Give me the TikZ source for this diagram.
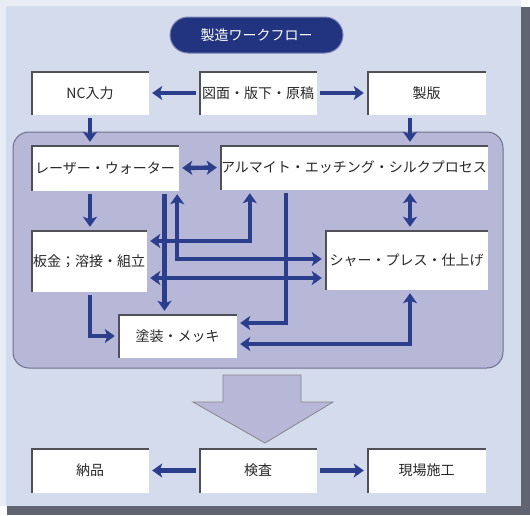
\documentclass[tikz,border=0pt]{standalone}
\usepackage{fontspec}
\newfontfamily\jpfont{Noto Sans CJK JP}
\usetikzlibrary{positioning, arrows.meta}

\definecolor{panelbg}{RGB}{212,219,236}
\definecolor{panelrim}{RGB}{232,236,245}
\definecolor{shadowgray}{RGB}{96,100,112}
\definecolor{innerbg}{RGB}{183,183,216}
\definecolor{innerline}{RGB}{112,112,140}
\definecolor{flowblue}{RGB}{42,62,140}
\definecolor{titleblue}{RGB}{34,52,128}
\definecolor{edgegray}{RGB}{80,80,86}
\definecolor{boxtext}{RGB}{40,40,40}

\begin{document}
\begin{tikzpicture}[
    x=1pt, y=-1pt,
    >={Stealth[length=10pt, width=14pt, inset=2.5pt]},
    box/.style   = {rectangle, fill=white, inner sep=0pt, text=boxtext,
                    font=\jpfont\fontsize{14}{16}\selectfont,
                    path picture={\draw[edgegray, line width=3pt]
                      (path picture bounding box.south west) --
                      (path picture bounding box.north west) --
                      (path picture bounding box.north east);}},
    title/.style = {rectangle, rounded corners=18pt, fill=titleblue,
                    draw=titleblue!60!white, line width=1pt, text=white,
                    minimum width=173pt, minimum height=36pt,
                    font=\jpfont\fontsize{14}{16}\selectfont},
    flow/.style  = {draw=flowblue, line width=4.4pt, shorten <=3pt, shorten >=3pt},
]
\useasboundingbox (0,0) rectangle (530,515);

% outer panel with shadow
\fill[shadowgray] (7,7) rectangle (530,515);
\fill[panelbg] (0,0) rectangle (521,506);
\draw[panelrim, line width=6pt] (3,506) -- (3,3) -- (521,3);

% inner processing panel
\draw[innerline, fill=innerbg, line width=1pt, rounded corners=16pt]
    (13,132) rectangle (503,368);

% title
\node[title] (head) at (256.5,35) {製造ワークフロー};

% top row
\node[box, minimum width=118pt, minimum height=44pt] (nc)     at (90,93)    {NC入力};
\node[box, minimum width=118pt, minimum height=44pt] (zumen)  at (258,93)   {図面・版下・原稿};
\node[box, minimum width=119pt, minimum height=44pt] (seihan) at (426.5,93) {製版};

% processes
\node[box, minimum width=148pt, minimum height=46pt] (laser)   at (105,168)   {レーザー・ウォーター};
\node[box, minimum width=268pt, minimum height=45pt] (alumite) at (354,167.5) {アルマイト・エッチング・シルクプロセス};
\node[box, minimum width=116pt, minimum height=62pt] (bankin)  at (89,261)    {板金；溶接・組立};
\node[box, minimum width=163pt, minimum height=60pt] (shear)   at (406.5,260) {シャー・プレス・仕上げ};
\node[box, minimum width=119pt, minimum height=44pt] (tosou)   at (177.5,336) {塗装・メッキ};

% bottom row
\node[box, minimum width=118pt, minimum height=45pt] (nohin) at (90,470.5)    {納品};
\node[box, minimum width=118pt, minimum height=45pt] (kensa) at (258,470.5)   {検査};
\node[box, minimum width=119pt, minimum height=45pt] (genba) at (426.5,470.5) {現場施工};

% big arrow down to inspection
\draw[edgegray!70, fill=innerbg, line width=0.8pt]
    (223,375) -- (301,375) -- (301,402) -- (333,402) -- (265,443)
    -- (193,402) -- (223,402) -- cycle;

% helper columns
\coordinate (lcol) at (90,0);
\coordinate (rcol) at (410,0);
\coordinate (tA) at ([xshift=-13pt]tosou.north);
\coordinate (d1) at ([yshift=-17pt]bankin.east);

% top row edges
\draw[flow, ->] (zumen.west) -- (nc.east);
\draw[flow, ->] (zumen.east) -- (seihan.west);
\draw[flow, ->] (nc.south -| lcol) -- (laser.north -| lcol);
\draw[flow, ->] (seihan.south -| rcol) -- (alumite.north -| rcol);

% process edges
\draw[flow, <->] (laser.east) -- (alumite.west);
\draw[flow, ->] (laser.south -| lcol) -- (bankin.north -| lcol);
\draw[flow, <->] (alumite.south -| rcol) -- (shear.north -| rcol);
\draw[flow, ->] (bankin.south -| lcol) |- (tosou.west);
\draw[flow, ->] (laser.south -| tA) -- (tA);
\draw[flow, <->] ([xshift=-2pt]laser.south east) |- ([yshift=1pt]shear.west);
\draw[flow, <->] ([xshift=30pt]alumite.south west) |- ([yshift=20pt]bankin.east);
\draw[flow, <->] (d1) -- (d1 -| shear.west);
\draw[flow, ->] ([xshift=66pt]alumite.south west) |- ([yshift=13pt]tosou.east);
\draw[flow, <->] (shear.south -| rcol) |- ([yshift=-8pt]tosou.east);

% bottom row edges
\draw[flow, ->] (kensa.west) -- (nohin.east);
\draw[flow, ->] (kensa.east) -- (genba.west);

\end{tikzpicture}
\end{document}
